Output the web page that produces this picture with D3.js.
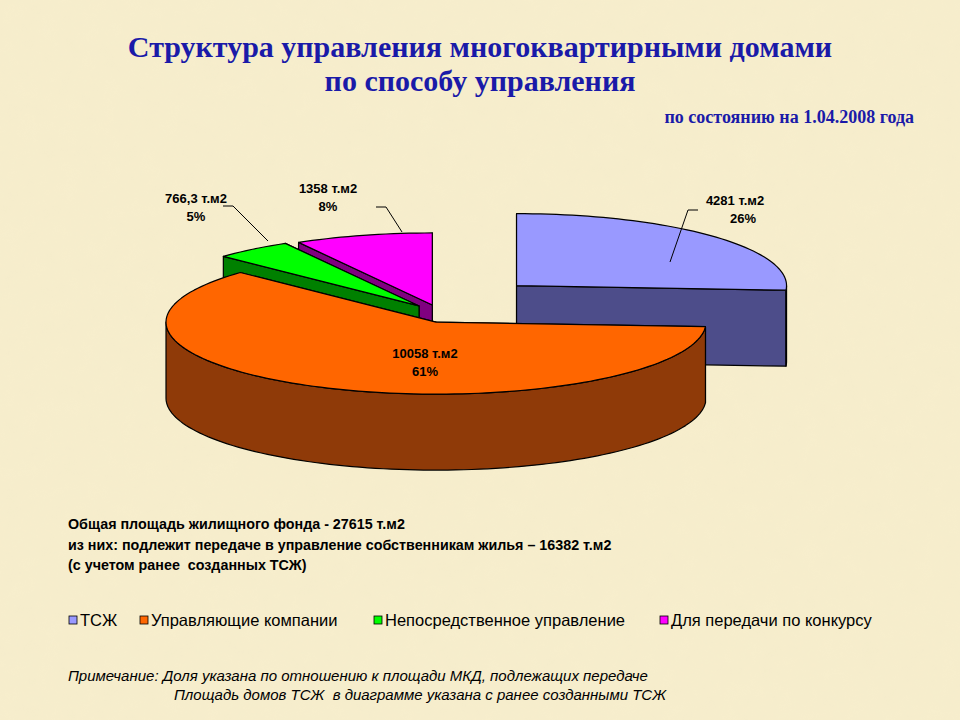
<!DOCTYPE html>
<html><head><meta charset="utf-8">
<script src="https://cdn.jsdelivr.net/npm/d3@7"></script>
<style>body{margin:0;background:#f6ecca}svg{display:block}</style>
</head><body>
<script>
// data
var names = ["ТСЖ", "Управляющие компании", "Непосредственное управление", "Для передачи по конкурсу"];
var areas = [4281, 10058, 766.3, 1358];
var areaLabels = ["4281 т.м2", "10058 т.м2", "766,3 т.м2", "1358 т.м2"];
var percents = ["26%", "61%", "5%", "8%"];
var topColors = ["#9999ff", "#ff6600", "#00ff00", "#ff00ff"];
var sideColors = ["#4d4d8a", "#8f3a08", "#008000", "#800080"];

var W = 960, H = 720;
var svg = d3.select("body").append("svg").attr("width", W).attr("height", H);

var defs = svg.append("defs");
var f = defs.append("filter").attr("id", "tex");
f.append("feTurbulence").attr("type", "fractalNoise").attr("baseFrequency", 0.05).attr("numOctaves", 3).attr("result", "n");
f.append("feColorMatrix").attr("type", "matrix")
  .attr("values", "0 0 0 0 0.85  0 0 0 0 0.78  0 0 0 0 0.55  0 0 0 0.35 0");
svg.append("rect").attr("width", W).attr("height", H).attr("fill", "#f7eecd");
svg.append("rect").attr("width", W).attr("height", H).attr("filter", "url(#tex)").attr("opacity", 0.5);

// titles
var serif = "'Liberation Serif', serif";
svg.append("text").attr("x", 480).attr("y", 57).attr("text-anchor", "middle")
  .style("font", "bold 30px " + serif).attr("fill", "#1a1aa8")
  .text("Структура управления многоквартирными домами");
svg.append("text").attr("x", 480).attr("y", 91).attr("text-anchor", "middle")
  .style("font", "bold 30px " + serif).attr("fill", "#1a1aa8")
  .text("по способу управления");
svg.append("text").attr("x", 914).attr("y", 123).attr("text-anchor", "end")
  .style("font", "bold 18px " + serif).attr("fill", "#1a1aa8")
  .text("по состоянию на 1.04.2008 года");

// 3d pie
var cx = 440, cy = 318, rx = 270, ry = 72, depth = 76;
var explode = [105, 10, 34, 30];
var pie = d3.pie().sort(null).value(function(d){ return d; });
var arcs = pie(areas);

function pt(a, ox, oy, dz) {
  return [ox + rx * Math.sin(a), oy - ry * Math.cos(a) + (dz || 0)];
}
function arcPts(a0, a1, ox, oy, dz) {
  var n = Math.max(2, Math.ceil((a1 - a0) / 0.03)), p = [];
  for (var i = 0; i <= n; i++) p.push(pt(a0 + (a1 - a0) * i / n, ox, oy, dz));
  return p;
}
var line = d3.line();
var g = svg.append("g").attr("stroke", "#000").attr("stroke-width", 1.2).attr("stroke-linejoin", "round");

var order = [3, 2, 0, 1];
order.forEach(function(i) {
  var d = arcs[i], mid = (d.startAngle + d.endAngle) / 2;
  var ox = cx + explode[i] * Math.sin(mid), oy = cy - explode[i] * Math.cos(mid) * 0.45;
  var walls = [];
  [d.startAngle, d.endAngle].forEach(function(a) {
    var p = pt(a, ox, oy);
    walls.push({ z: Math.cos(a), pts: [[ox, oy], p, [p[0], p[1] + depth], [ox, oy + depth]] });
  });
  walls.sort(function(a, b){ return b.z - a.z; });
  walls.forEach(function(w) {
    g.append("path").attr("d", line(w.pts) + "Z").attr("fill", sideColors[i]);
  });
  var s = Math.max(d.startAngle, Math.PI / 2), e = Math.min(d.endAngle, Math.PI * 1.5);
  if (e > s) {
    var top = arcPts(s, e, ox, oy, 0), bot = arcPts(s, e, ox, oy, depth).reverse();
    g.append("path").attr("d", line(top.concat(bot)) + "Z").attr("fill", sideColors[i]);
  }
  var tp = [[ox, oy]].concat(arcPts(d.startAngle, d.endAngle, ox, oy, 0));
  g.append("path").attr("d", line(tp) + "Z").attr("fill", topColors[i]);
});

// labels
var sans = "'Liberation Sans', Arial, sans-serif";
var labelPos = [[735, 205], [425, 358], [196, 203], [328, 193]];
var leaders = [[[688, 210], [670, 262]], null, [[233, 206], [268, 241]], [[386, 207], [402, 232]]];
arcs.forEach(function(d, i) {
  var t = svg.append("text").attr("text-anchor", "middle").style("font", "bold 13px " + sans);
  t.append("tspan").attr("x", labelPos[i][0]).attr("y", labelPos[i][1]).text(areaLabels[i]);
  t.append("tspan").attr("x", labelPos[i][0] + (i === 0 ? 8 : 0)).attr("dy", 18).text(percents[i]);
  if (leaders[i]) {
    var L = leaders[i];
    var x0 = i === 0 ? L[0][0] + 10 : L[0][0] - 10;
    svg.append("path").attr("d", line([[x0, L[0][1]], L[0], L[1]]))
      .attr("fill", "none").attr("stroke", "#000").attr("stroke-width", 1);
  }
});

// info text
var info = ["Общая площадь жилищного фонда - 27615 т.м2",
  "из них: подлежит передаче в управление собственникам жилья – 16382 т.м2",
  "(с учетом ранее  созданных ТСЖ)"];
info.forEach(function(s, i) {
  svg.append("text").attr("x", 68).attr("y", 529 + i * 20.5).style("font", "bold 14.3px " + sans)
    .style("white-space", "pre").text(s);
});

// legend
var legX = [69, 140, 374, 660];
names.forEach(function(n, i) {
  svg.append("rect").attr("x", legX[i]).attr("y", 616).attr("width", 8).attr("height", 8)
    .attr("fill", topColors[i]).attr("stroke", "#000").attr("stroke-width", 0.8);
  svg.append("text").attr("x", legX[i] + 11).attr("y", 626)
    .style("font", "16.5px " + sans).text(n);
});

// note
svg.append("text").attr("x", 68).attr("y", 681).style("font", "italic 15px " + sans)
  .text("Примечание: Доля указана по отношению к площади МКД, подлежащих передаче");
svg.append("text").attr("x", 174).attr("y", 700).style("font", "italic 15px " + sans)
  .style("white-space", "pre").text("Площадь домов ТСЖ  в диаграмме указана с ранее созданными ТСЖ");
</script>
</body></html>
